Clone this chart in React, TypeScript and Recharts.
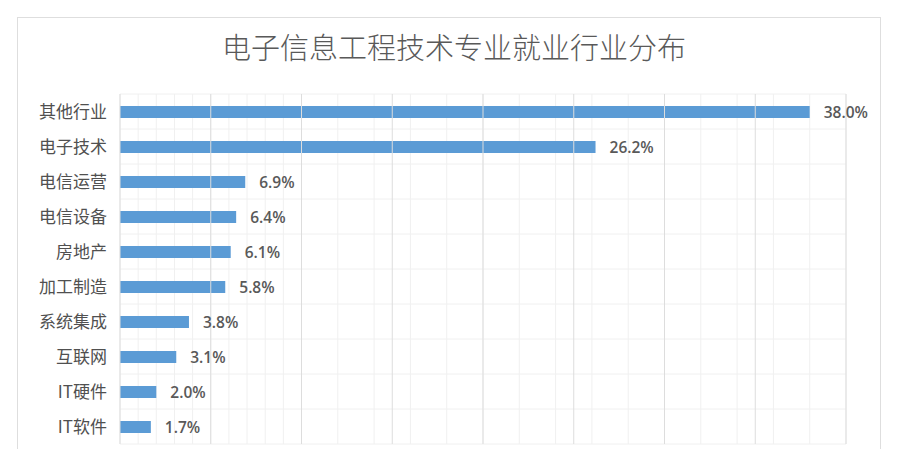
import React from 'react';
import { BarChart, Bar, XAxis, YAxis, CartesianGrid, ReferenceLine, LabelList } from 'recharts';

const title = '电子信息工程技术专业就业行业分布';
const categories = ['其他行业', '电子技术', '电信运营', '电信设备', '房地产', '加工制造', '系统集成', '互联网', 'IT硬件', 'IT软件'];
const shares = [38.0, 26.2, 6.9, 6.4, 6.1, 5.8, 3.8, 3.1, 2.0, 1.7];
const majorTicks = [0, 5, 10, 15, 20, 25, 30, 35, 40];
const minorTicks = Array.from({ length: 41 }, (_, i) => i);

const data = categories.map((name, i) => ({ name, share: shares[i] }));

const font = "'Open Sans', 'Noto Sans CJK SC', sans-serif";

export default function App() {
	// grid lines between categories, like excel does it
	const rowLines = ({ offset }: any) =>
		categories.map((_, i) => offset.top + (i * offset.height) / categories.length).concat(offset.top + offset.height);

	return (
		<div style={{ position: 'absolute', left: 0, top: 0, width: 910, height: 449, background: '#fff', overflow: 'hidden', fontFamily: font }}>
			<div style={{ position: 'absolute', left: 17, top: 17, width: 862, height: 460, border: '1px solid #dedede' }} />
			<div
				style={{
					position: 'absolute',
					left: 0,
					top: 25,
					width: 908,
					textAlign: 'center',
					fontSize: 29,
					fontWeight: 300,
					color: '#595959',
					fontFamily: "'Noto Sans CJK SC', sans-serif",
				}}
			>
				{title}
			</div>
			<div style={{ position: 'absolute', left: 0, top: 0 }}>
				<BarChart
					width={910}
					height={449}
					data={data}
					layout="vertical"
					margin={{ top: 94, right: 64, left: 20, bottom: 5 }}
				>
					<CartesianGrid
						vertical={true}
						horizontal={true}
						stroke="#f0f0f0"
						horizontalCoordinatesGenerator={rowLines}
					/>
					{majorTicks.map((t) => (
						<ReferenceLine key={t} x={t} stroke="#dddddd" ifOverflow="visible" />
					))}
					<XAxis type="number" domain={[0, 40]} ticks={minorTicks} hide />
					<YAxis
						type="category"
						dataKey="name"
						width={100}
						tickSize={0}
						tickMargin={13}
						axisLine={false}
						tickLine={false}
						interval={0}
						tick={{ fontSize: 17, fill: '#505050', fontFamily: "'Noto Sans CJK SC', sans-serif" }}
					/>
					<Bar dataKey="share" fill="#5b9bd5" barSize={12} isAnimationActive={false}>
						<LabelList
							dataKey="share"
							position="right"
							offset={14}
							formatter={(v: any) => Number(v).toFixed(1) + '%'}
							style={{ fontSize: 15.5, fill: '#595959', fontWeight: 600, fontFamily: font }}
						/>
					</Bar>
				</BarChart>
			</div>
		</div>
	);
}
